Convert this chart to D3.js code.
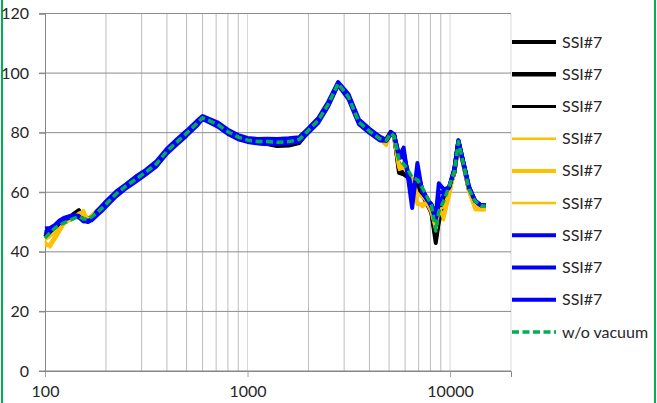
<!DOCTYPE html>
<html><head><meta charset="utf-8">
<script src="https://cdn.jsdelivr.net/npm/d3@7"></script>
<style>body{margin:0;background:#fff}svg{display:block}text{font-family:Lato,"Liberation Sans",sans-serif;fill:#262626}</style>
</head><body><svg id="c" width="657" height="403"></svg>
<script>
const freq = [100,106,112,118,125,132,140,147,155,163,170,180,190,200,225,250,280,315,355,400,450,500,560,600,710,800,900,1000,1120,1250,1400,1600,1800,2000,2240,2500,2800,3150,3550,4000,4500,4850,5100,5300,5600,5900,6200,6500,6900,7300,7700,8100,8500,8800,9300,9900,10500,11000,11700,12400,13300,14200,15000];

const black1 = [45.5,47,48.5,49.5,50.5,51.5,53,54,52,51,51.5,53,54.5,56,59.3,61.8,64.2,66.7,69.4,73.7,76.9,79.7,82.9,84.9,82.7,80.2,78.3,77.2,76.6,76.2,75.5,75.7,76.5,80.5,84,89.3,96.3,92,83.5,80.4,77.9,77.8,80.3,79,66.5,66,65,62.5,61,59,56,53,43,50,56.5,61,66.5,76.8,68.8,60.8,56.8,55.2,55.2];
const black2 = [45,46.8,48.3,49.3,50.2,51.2,52.5,53.5,51.8,51.2,51.6,53.1,54.5,56.1,59.4,61.9,64.2,66.7,69.4,73.7,76.9,79.7,82.9,84.9,82.7,80.2,78.3,77.3,76.7,76.4,76,76.2,77,80.6,84.1,89.4,96.4,92.1,83.6,80.5,78,77.7,80.1,78.8,68,67,66.5,63.5,62,59.5,56.5,53.5,45,51,57,61.5,66.8,76.9,68.9,60.9,56.9,55.3,55.3];
const black3 = [44.8,46.6,48.1,49.1,49.9,50.7,51.6,52.2,51.2,51.1,51.8,53,54.5,56,59.5,62,64.3,66.8,69.5,73.8,77,79.8,83,85,82.8,80.3,78.4,77.4,76.9,76.8,76.5,76.7,77.5,80.8,84.2,89.5,96.5,92,83.5,80.5,78,77.6,79.9,78.8,69.5,68.5,67,64.5,63,60.5,57.5,54.5,46,52.5,57,61.8,66.9,76.9,68.9,60.9,56.9,55.4,55.4];
const yellow1 = [43.5,41.5,44,46.5,49.5,50.5,51.5,52.5,54,50,52,54,55,56.5,60,62.3,64.5,67,69.8,74,77.2,80,83.2,85,82.8,80.5,78.5,77.3,76.7,76.5,76.3,76.6,77.4,80.7,84.1,89.4,96.4,92,83.4,80.3,77.5,75.5,79.5,78,67.5,68,66,64,57,55,56,53,47.5,55,50.5,58.5,67,76.5,68.5,60,54,54,54];
const yellow2 = [42,42.5,45,47.5,49.8,50.8,51.8,52.8,53.5,50.5,52.2,53.8,54.8,56.3,59.8,62.2,64.4,66.9,69.7,73.9,77.1,79.9,83.1,85,82.8,80.4,78.4,77.2,76.8,76.6,76.4,76.7,77.5,80.7,84.1,89.4,96.4,92.1,83.5,80.4,77.7,76.5,79.6,78.3,68.5,68.5,66.5,64.5,56,56,56.5,53.5,48,54.5,52,59,67.2,76.7,68.7,60.5,54.5,54.3,54.3];
const yellow3 = [44,45,46.5,48,49.5,50.4,51.2,52,52.5,50.8,51.9,53.3,54.6,56.1,59.6,62.1,64.3,66.8,69.6,73.8,77,79.8,83,85,82.8,80.3,78.5,77.4,76.9,76.8,76.6,76.9,77.6,80.8,84.2,89.5,96.5,92,83.5,80.5,77.8,77,79.7,78.5,69.5,68.8,67,64.8,60,58,57,54,47.2,54,55,60.5,67.1,76.8,68.8,60.8,55.5,54.8,54.8];
const blue1 = [47.8,48,49,50.5,51.5,52,52.3,52,50.5,50,50.8,53.6,55.3,56.9,60.3,62.6,65.2,67.5,70.4,74.6,77.9,80.6,83.8,85.6,83.5,81,79.2,78.2,77.9,78,77.9,78.1,78.5,81.5,85,90.3,97,93,84.4,81.3,78.7,77.5,80,79.5,72,75,65,54.7,69.8,60,57.4,56,52,63,61,61.5,68,77.5,69.5,62,57,55.7,55.7];
const blue2 = [46.5,47.5,48.5,49.8,50.8,51.5,52,51.5,50.2,50.5,50.6,52.2,53.6,55.2,58.7,61.2,63.5,66,68.7,73,76.2,79,82.2,84.6,82.1,79.6,77.8,76.9,76.4,76.2,76.2,76.4,77,80,83.4,88.8,96,91.3,82.8,79.9,77.4,77.3,79.6,78.9,71.5,72,67,60,66,61,58,55,50.5,56,59,61.8,67.5,77.2,69.2,61.5,57.2,55.6,55.6];
const blue3 = [46,47,48.8,50,51,51.8,52.2,51.8,50.8,50.2,50.8,52.6,54.6,56.4,59.7,62.2,64.4,66.9,69.7,73.9,77.2,79.9,83.2,85.1,82.9,80.4,78.6,77.7,77.2,77.1,77,77.2,77.8,80.9,84.3,89.6,96.6,92.3,83.7,80.7,78.1,77.4,79.9,79.2,72.5,73.5,66,57,67.5,60.5,57.8,55.8,51,60,60,61.6,67.8,77.3,69.3,61.8,57.1,55.6,55.6];
const withoutVacuum = [44.6,46.5,48,49,49.8,50.5,51.3,51.8,51,51,51.8,53,54.5,56,59.5,62,64.3,66.8,69.5,73.8,77,79.8,83,85,82.8,80.3,78.5,77.5,77,77,76.8,77,77.7,80.8,84.2,89.5,96.5,92,83.5,80.5,78,77.5,79.8,78.7,70.8,69.5,67.5,65,64.2,61.5,58.5,55.5,47,53.5,57,62,67,77,69,61,57,55.5,55.3];

const seriesLabels = ["SSI#7","SSI#7","SSI#7","SSI#7","SSI#7","SSI#7","SSI#7","SSI#7","SSI#7","w/o vacuum"];
const seriesValues = [black1,black2,black3,yellow1,yellow2,yellow3,blue1,blue2,blue3,withoutVacuum];
const yTicks = [0,20,40,60,80,100,120];
const xMajorTicks = [100,1000,10000];
const xMinorGrid = [200,300,400,500,600,700,800,900,2000,3000,4000,5000,6000,7000,8000,9000];
const xEdge = [1000,10000,20000];

// styles (kept apart from data)
const styles = [
  {c:"#000000", w:4},{c:"#000000", w:4.5},{c:"#000000", w:3},
  {c:"#FFC000", w:2.5},{c:"#FFC000", w:4},{c:"#FFC000", w:2.5},
  {c:"#0000FF", w:4},{c:"#0000FF", w:4},{c:"#0000FF", w:4},
  {c:"#00B050", w:3.5, dash:"7,3.5"}
];

const svg = d3.select("#c");
const x = d3.scaleLog().domain([100,20000]).range([45,511]);
const y = d3.scaleLinear().domain([0,120]).range([371,13.5]);

// green frame sides
svg.append("line").attr("x1",2).attr("x2",2).attr("y1",0).attr("y2",403).attr("stroke","#00B050").attr("stroke-width",2);
svg.append("line").attr("x1",655).attr("x2",655).attr("y1",0).attr("y2",403).attr("stroke","#00B050").attr("stroke-width",2);

// vertical gridlines
svg.append("g").selectAll("line").data(xMinorGrid).join("line")
  .attr("x1",d=>x(d)).attr("x2",d=>x(d)).attr("y1",y(120)).attr("y2",y(0))
  .attr("stroke","#bdbdbd").attr("stroke-width",1);
svg.append("g").selectAll("line").data(xEdge).join("line")
  .attr("x1",d=>x(d)).attr("x2",d=>x(d)).attr("y1",y(120)).attr("y2",y(0))
  .attr("stroke","#d9d9d9").attr("stroke-width",1);
// horizontal gridlines
svg.append("g").selectAll("line").data(yTicks.slice(1)).join("line")
  .attr("x1",39).attr("x2",x(20000)).attr("y1",d=>y(d)).attr("y2",d=>y(d))
  .attr("stroke","#8c8c8c").attr("stroke-width",1);

// axes
const xAxis = svg.append("g").attr("transform",`translate(0,${y(0)})`)
  .call(d3.axisBottom(x).tickValues(xMajorTicks).tickFormat(d3.format("d")).tickSize(6).tickPadding(9));
xAxis.select(".domain").attr("stroke","#868686");
xAxis.selectAll(".tick line").attr("stroke","#a6a6a6");
xAxis.selectAll("text").attr("font-size","16px").attr("fill","#262626").attr("font-family",'Lato,"Liberation Sans",sans-serif');

const yAxis = svg.append("g").attr("transform",`translate(${x(100)},0)`)
  .call(d3.axisLeft(y).tickValues(yTicks).tickSize(6).tickPadding(10));
yAxis.select(".domain").attr("stroke","#868686");
yAxis.selectAll(".tick line").attr("stroke","#868686");
yAxis.selectAll("text").attr("font-size","16px").attr("fill","#262626").attr("font-family",'Lato,"Liberation Sans",sans-serif');
svg.append("line").attr("x1",39).attr("x2",x(20000)).attr("y1",y(0)).attr("y2",y(0)).attr("stroke","#868686");

// series lines
const line = d3.line().x((d,i)=>x(freq[i])).y(d=>y(d)).curve(d3.curveLinear);
const g = svg.append("g");
seriesValues.forEach((vals,k)=>{
  const s = styles[k];
  g.append("path").datum(vals).attr("d",line).attr("fill","none")
    .attr("stroke",s.c).attr("stroke-width",s.w)
    .attr("stroke-linejoin","round")
    .attr("stroke-dasharray",s.dash||null);
});

// legend
const legY = d3.scaleLinear().domain([0,9]).range([42,332]);
const leg = svg.append("g");
seriesLabels.forEach((lab,k)=>{
  const s = styles[k];
  const yy = legY(k);
  leg.append("line").attr("x1",512).attr("x2",556).attr("y1",yy).attr("y2",yy)
    .attr("stroke",s.c).attr("stroke-width",s.w).attr("stroke-dasharray",s.dash||null);
  leg.append("text").attr("x",562).attr("y",yy).attr("dy","0.35em")
    .attr("font-size","16px").text(lab);
});
</script></body></html>
